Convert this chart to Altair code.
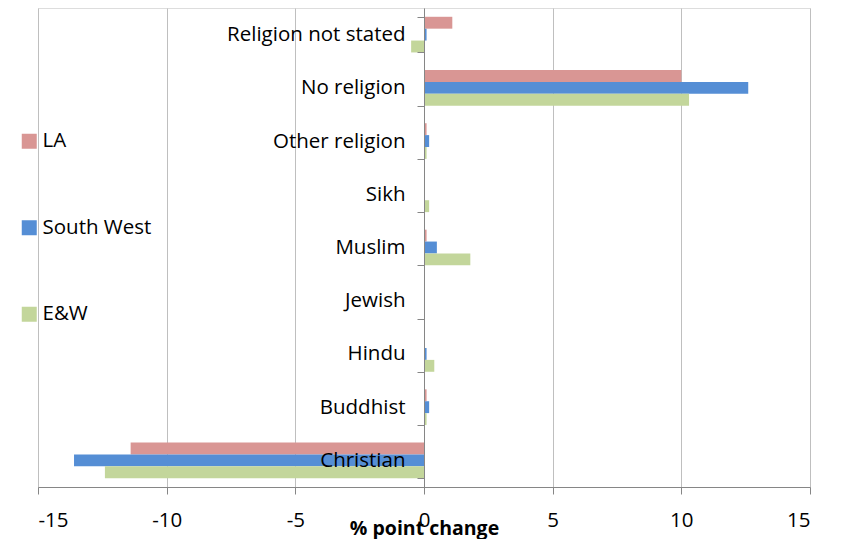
import altair as alt
import pandas as pd

categories = ["Religion not stated", "No religion", "Other religion", "Sikh", "Muslim",
              "Jewish", "Hindu", "Buddhist", "Christian"]
series = ["LA", "South West", "E&W"]
la = [1.1, 10.0, 0.1, 0.0, 0.1, 0.0, 0.0, 0.1, -11.4]
sw = [0.1, 12.6, 0.2, 0.0, 0.5, 0.0, 0.1, 0.2, -13.6]
ew = [-0.5, 10.3, 0.1, 0.2, 1.8, 0.0, 0.4, 0.1, -12.4]
colors = ["#D99694", "#558ED5", "#C3D69B"]
x_ticks = [-15, -10, -5, 0, 5, 10, 15]

rows = []
for name, vals in zip(series, [la, sw, ew]):
    for c, v in zip(categories, vals):
        rows.append({"Religion": c, "Series": name, "Change": v})
df = pd.DataFrame(rows)

FONT = "Open Sans"
FS = 20.5

chart = alt.Chart(df).mark_bar().encode(
    x=alt.X("Change:Q",
            scale=alt.Scale(domain=[-15, 15], nice=False),
            axis=alt.Axis(values=x_ticks, title="% point change", grid=True,
                          labelExpr="'' + datum.value",
                          gridColor="#BFBFBF", domainColor="#868686", tickColor="#868686",
                          tickSize=7, labelPadding=16, labelFontSize=FS, labelFont=FONT,
                          labelColor="#000000", titleFont=FONT, titleFontSize=19.5,
                          titleFontWeight="bold", titleColor="#000000",
                          titleY=41, titleBaseline="middle")),
    y=alt.Y("Religion:N", sort=categories,
            scale=alt.Scale(paddingInner=0.33, paddingOuter=0.165),
            axis=alt.Axis(title=None, offset=-386, tickBand="extent", tickSize=7,
                          tickColor="#868686", domainColor="#868686", labelPadding=12,
                          labelFontSize=FS, labelFont=FONT, labelColor="#000000",
                          labelFontWeight="normal", zindex=2)),
    yOffset=alt.YOffset("Series:N", sort=series),
    color=alt.Color("Series:N", sort=series,
                    scale=alt.Scale(domain=series, range=colors),
                    legend=alt.Legend(title=None, orient="none", legendX=-19, legendY=123,
                                      symbolType="square", symbolSize=225,
                                      symbolStrokeWidth=0, rowPadding=65.5,
                                      labelFontSize=FS, labelFont=FONT,
                                      labelColor="#000000", labelOffset=3)),
).properties(
    width=772, height=479,
    autosize=alt.AutoSizeParams(type="none"),
    padding={"left": 30, "top": 0, "right": 26, "bottom": 52},
).configure_view(stroke=None).configure(background="#FFFFFF")

chart.save("out.html", embed_options={"renderer": "svg", "actions": False})
